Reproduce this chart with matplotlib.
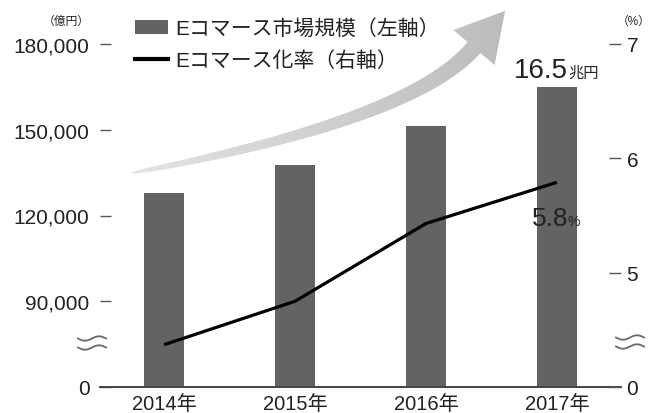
import numpy as np
import matplotlib
matplotlib.use("Agg")
import matplotlib.pyplot as plt
from matplotlib.patches import Patch, PathPatch
from matplotlib.lines import Line2D
from matplotlib.path import Path

plt.rcParams['font.family'] = ['Liberation Sans', 'Noto Sans CJK JP', 'DejaVu Sans']

# ---- data ----
years = ["2014年", "2015年", "2016年", "2017年"]
market_size = [127970, 137746, 151358, 165054]   # 億円 (left axis)
ec_rate = [4.37, 4.75, 5.43, 5.79]               # % (right axis)
left_ticks = [60000, 90000, 120000, 150000, 180000]
left_labels = ["0", "90,000", "120,000", "150,000", "180,000"]
right_ticks = [4, 5, 6, 7]
right_labels = ["0", "5", "6", "7"]
legend_labels = ["Eコマース市場規模（左軸）", "Eコマース化率（右軸）"]
bar_note_num, bar_note_unit = "16.5", "兆円"
line_note_num, line_note_unit = "5.8", "%"

W, H = 652, 414
fig = plt.figure(figsize=(W / 100, H / 100), dpi=100)
ax_l, ax_r, ax_t = 100, 621, 45
ax_b = 388
ax = fig.add_axes([ax_l / W, (H - ax_b) / H, (ax_r - ax_l) / W, (ax_b - ax_t) / H])
ax.patch.set_alpha(0)

txt = "#222222"
bar_color = "#636363"
x = np.arange(len(years))
bars = ax.bar(x, [v - left_ticks[0] for v in market_size], bottom=left_ticks[0],
              width=0.31, color=bar_color, zorder=2)
ax.set_xlim(-0.49, 3.49)
ax.set_ylim(left_ticks[0], left_ticks[-1])
ax.set_yticks(left_ticks)
ax.set_yticklabels(left_labels)
ax.set_xticks(x)
ax.set_xticklabels(years)
ax.tick_params(axis='x', length=0, pad=5, labelsize=14.5, labelcolor=txt)
ax.tick_params(axis='y', direction='in', length=8, width=1, color="#555555",
               pad=7.5, labelsize=15, labelcolor=txt)
for s in ['top', 'right', 'left']:
    ax.spines[s].set_visible(False)
ax.spines['bottom'].set_color("#444444")
ax.spines['bottom'].set_linewidth(1.4)

ax2 = ax.twinx()
ax2.set_ylim(right_ticks[0], right_ticks[-1])
ax2.plot(x, ec_rate, color="black", lw=2.3, zorder=3, solid_capstyle='butt')
ax2.set_yticks(right_ticks)
ax2.set_yticklabels(right_labels)
ax2.tick_params(axis='y', direction='in', length=8.5, width=1, color="#555555",
                pad=4, labelsize=15, labelcolor=txt)
for s in ['top', 'right', 'left', 'bottom']:
    ax2.spines[s].set_visible(False)

# annotations
ax.annotate(bar_note_num, xy=(x[3], market_size[3]), xytext=(8, 7),
            textcoords='offset points', ha='right', va='baseline',
            fontsize=20, color=txt)
ax.annotate(bar_note_unit, xy=(x[3], market_size[3]), xytext=(8, 7),
            textcoords='offset points', ha='left', va='baseline',
            fontsize=11, color=txt)
ax2.annotate(line_note_num, xy=(x[3], ec_rate[3]), xytext=(8, -31),
             textcoords='offset points', ha='right', va='baseline',
             fontsize=19, color=txt)
ax2.annotate(line_note_unit, xy=(x[3], ec_rate[3]), xytext=(8, -31),
             textcoords='offset points', ha='left', va='baseline',
             fontsize=10, color=txt)

# legend
handles = [Patch(facecolor=bar_color, edgecolor='none'),
           Line2D([0], [0], color='black', lw=3)]
leg = ax2.legend(handles, legend_labels, loc='upper left',
                 bbox_to_anchor=(135 / W, 1 - 19 / H), bbox_transform=fig.transFigure,
                 frameon=False, fontsize=15, handlelength=1.6, handleheight=0.65,
                 handletextpad=0.35, labelspacing=0.6, borderpad=0, borderaxespad=0)
for t in leg.get_texts():
    t.set_color(txt)

# overlay in pixel coordinates for decorations
ov = fig.add_axes([0, 0, 1, 1], zorder=5)
ov.set_xlim(0, W)
ov.set_ylim(H, 0)
ov.axis('off')
ov.patch.set_alpha(0)

# curved gradient arrow
P0 = np.array([132.0, 174.0])
P2 = np.array([474.0, 48.5])
P1 = np.array([412.0, 121.5])
t = np.linspace(0, 1, 80)[:, None]
C = (1 - t) ** 2 * P0 + 2 * t * (1 - t) * P1 + t ** 2 * P2
D = 2 * (1 - t) * (P1 - P0) + 2 * t * (P2 - P1)
D = D / np.linalg.norm(D, axis=1, keepdims=True)
N = np.column_stack([D[:, 1], -D[:, 0]])  # points up-left
wdt = (1.5 + 15.5 * np.sqrt(t[:, 0]))[:, None]
upper = C + N * wdt / 2
lower = C - N * wdt / 2
d_end = D[-1]
n_end = N[-1]
wing1 = P2 + n_end * 27
wing2 = P2 - n_end * 27
tip = P2 + d_end * 48
poly = np.vstack([upper, wing1, tip, wing2, lower[::-1], upper[:1]])
path = Path(poly)
pp = PathPatch(path, facecolor='none', edgecolor='none')
ov.add_patch(pp)
grad = np.linspace(0, 1, 256)[None, :]
cmap = matplotlib.colors.LinearSegmentedColormap.from_list("g", ["#e4e4e4", "#bcbcbc"])
im = ov.imshow(grad, cmap=cmap, extent=[128, 510, 182, 5], aspect='auto',
               interpolation='bilinear', zorder=1)
im.set_clip_path(pp)
ov.set_xlim(0, W)
ov.set_ylim(H, 0)

# axis break marks
def wave(cx, cy):
    xs = np.linspace(-14, 14, 60)
    for off in (-4.5, 4.5):
        ov.plot(cx + xs, cy + off - 2.2 * np.sin(2 * np.pi * xs / 28), color="#6a6a6a", lw=1.3)

wave(92, 344)
wave(630, 343)

# unit labels
ov.text(66, 22, "（億円）", fontsize=8.5, ha='center', va='center', color=txt)
ov.text(651, 22, "（%）", fontsize=8.5, ha='right', va='center', color=txt)

fig.savefig("out.png", dpi=100)
